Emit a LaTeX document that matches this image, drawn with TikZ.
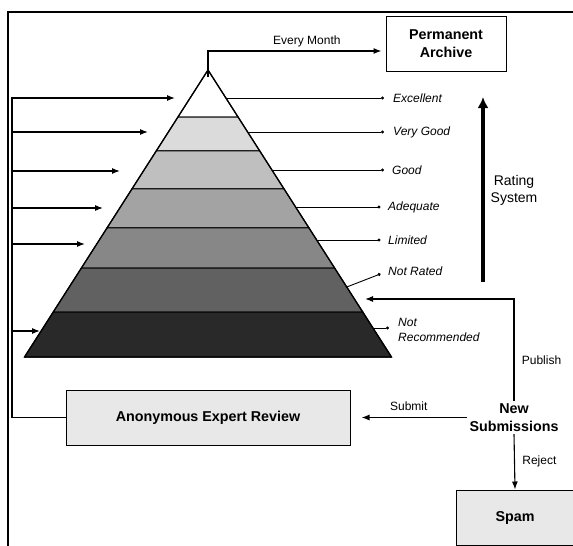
\documentclass[tikz,border=0pt]{standalone}
\usepackage{fontspec}
\setmainfont{Liberation Sans}
\usetikzlibrary{arrows.meta,calc}
\definecolor{bandb}{gray}{0.86}
\definecolor{bandc}{gray}{0.75}
\definecolor{bandd}{gray}{0.64}
\definecolor{bande}{gray}{0.53}
\definecolor{bandf}{gray}{0.38}
\definecolor{bandg}{gray}{0.16}
\definecolor{boxfill}{gray}{0.91}
\tikzset{
	box/.style={draw, line width=1pt, align=center, font=\bfseries\fontsize{14.3}{18.5}\selectfont},
	arr/.style={-{Latex[length=8pt,width=6pt]}, line width=1.1pt},
	dotline/.style={-{Circle[length=3pt]}, line width=0.9pt},
	level/.style={anchor=west, inner sep=0pt, align=left, font=\itshape\fontsize{12}{15}\selectfont},
	lbl/.style={font=\fontsize{12}{15}\selectfont}
}
\begin{document}
\begin{tikzpicture}[x=1pt, y=-1pt]
		\useasboundingbox (0,0) rectangle (573,546);
		\clip (0,0) rectangle (573,546);
		\draw [line width=1.2pt] (8,546) -- (8,12) -- (573,12);
		\coordinate (apex) at (208,70);
		\coordinate (bl) at (24.5,357);
		\coordinate (br) at (391.5,357);
		\foreach \fa/\fb/\shade in {0/0.1638/white, 0.1638/0.2822/bandb, 0.2822/0.4146/bandc, 0.4146/0.5505/bandd, 0.5505/0.6899/bande, 0.6899/0.8432/bandf, 0.8432/1/bandg}
			\filldraw [fill=\shade, draw=black, line width=1pt] ($(apex)!\fa!(bl)$) -- ($(apex)!\fb!(bl)$) -- ($(apex)!\fb!(br)$) -- ($(apex)!\fa!(br)$) -- cycle;
		\draw [line width=1.3pt, line join=round] (apex) -- (bl) -- (br) -- cycle;
		\node [box, minimum width=120pt, minimum height=55pt] (archive) at (446,43.5) {Permanent\\Archive};
		\node [box, fill=boxfill, minimum width=284pt, minimum height=55pt] (review) at (208,417.5) {Anonymous Expert Review};
		\node [box, fill=boxfill, minimum width=118pt, minimum height=55pt] (spam) at (515,517.5) {Spam};
		\node [box, draw=none, inner sep=2pt] (newsub) at (514,417.5) {New\\Submissions};
		\node [level] (excellent) at (393,98) {Excellent};
		\node [level] (verygood) at (393,132) {Very Good};
		\node [level] (good) at (392,170) {Good};
		\node [level] (adequate) at (388,207) {Adequate};
		\node [level] (limited) at (388,240) {Limited};
		\node [level] (notrated) at (388,271) {Not Rated};
		\node [level] (notrec) at (398,329.5) {Not\\Recommended};
		\node [lbl, font=\fontsize{14}{17}\selectfont, align=center] (rating) at (514,190) {Rating\\System};
		\draw [dotline, shorten >=9pt] ($(apex)!0.0976!(br)$) coordinate (e1) -- (e1 -| excellent.west);
		\draw [dotline, shorten >=9pt] ($(apex)!0.2160!(br)$) coordinate (e2) -- (e2 -| verygood.west);
		\draw [dotline, shorten >=8pt] ($(apex)!0.3484!(br)$) coordinate (e3) -- (e3 -| good.west);
		\draw [dotline, shorten >=7.5pt] ($(apex)!0.4774!(br)$) coordinate (e4) -- (e4 -| adequate.west);
		\draw [dotline, shorten >=7.5pt] ($(apex)!0.5923!(br)$) coordinate (e5) -- (e5 -| limited.west);
		\draw [dotline, shorten >=8pt] ($(apex)!0.7561!(br)$) -- (notrated.west);
		\draw [dotline, shorten >=9pt] ($(apex)!0.8990!(br)$) coordinate (e7) -- (e7 -| notrec.west);
		\coordinate (fbtop) at (12,98);
		\draw [arr] (review.west) -| (fbtop) -- (175,98);
		\foreach \y/\x in {132/148, 171/120, 208/103, 244/85, 331/40}
			\draw [arr] (12,\y) -- (\x,\y);
		\draw [arr] ([yshift=-7pt]apex) |- node [lbl, above, pos=0.785] {Every Month} ([xshift=-4pt,yshift=-7.5pt]archive.west);
		\coordinate (rbot) at (483,282);
		\coordinate (rtop) at (483,97);
		\draw [-{Latex[length=11pt,width=11pt]}, line width=3.5pt] (rbot) -- (rtop);
		\coordinate (pubtip) at (365,299);
		\draw [arr] (newsub.north) |- node [lbl, right, pos=0.2, xshift=4pt] {Publish} (pubtip);
		\draw [arr, shorten >=11pt] (newsub.west) -- node [lbl, above, yshift=3pt] {Submit} (review.east);
		\draw [arr] (newsub.south) -- node [lbl, right, xshift=4pt] {Reject} (spam.north);
	\end{tikzpicture}
\end{document}
